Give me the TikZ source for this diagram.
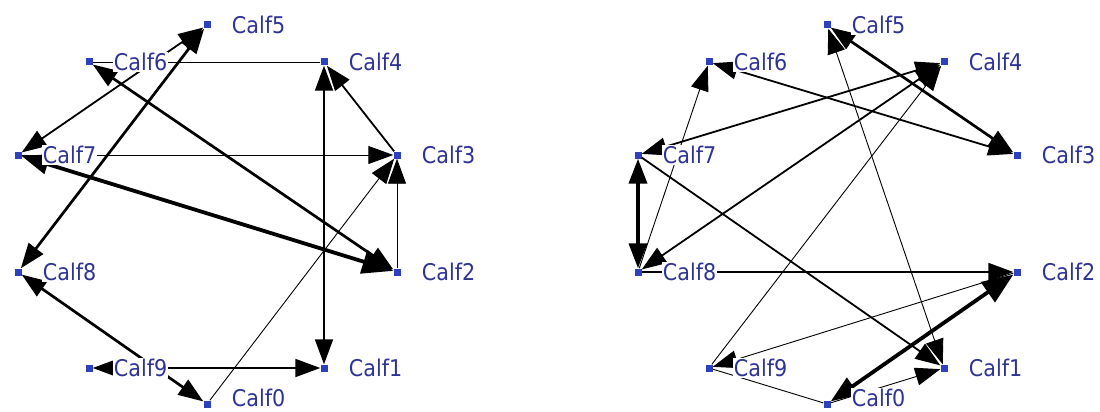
\documentclass[tikz,border=0pt]{standalone}
\usepackage{fontspec}
\setmainfont{DejaVu Sans Condensed}
\usetikzlibrary{arrows.meta,positioning}

\definecolor{calfblue}{RGB}{46,52,150}
\definecolor{dotblue}{RGB}{45,65,190}

\begin{document}
\begin{tikzpicture}[x = 1pt, y = -1pt,
        font = \fontsize{23}{27}\selectfont,
        dot/.style = {fill = dotblue, minimum size = 7pt, inner sep = 0pt},
        calf/.style = {text = calfblue, fill = white, inner sep = 1pt},
        e1/.style = {line width = 0.9pt},
        e2/.style = {line width = 1.8pt},
        e3/.style = {line width = 2.7pt},
        e4/.style = {line width = 3.8pt},
        one/.style = {-{Triangle[length = 25pt, width = 18pt]}},
        both/.style = {{Triangle[length = 25pt, width = 18pt]}-{Triangle[length = 25pt, width = 18pt]}},
        bigboth/.style = {{Triangle[length = 27pt, width = 20pt]}-{Triangle[length = 31pt, width = 24pt]}}]
        \useasboundingbox (0,0) rectangle (1100,412);
        
        % dots of both graphs
        \foreach \n/\x/\y in {5/207/25, 6/89/62, 4/324/62, 7/18/155, 3/397/155,
                              8/18/272, 2/397/272, 9/89/368, 1/324/368, 0/207/404}
        {
            \node[dot] (a\n) at (\x,\y) {};
            \node[dot] (b\n) at (\x+620,\y) {};
        }
        
        % left graph
        \draw [e1] (a6) -- (a4);
        \draw [e2, both] (a4) -- (a1);
        \draw [e2, one] (a3) -- (a4);
        \draw [e1, one] (a2) -- (a3);
        \draw [e1, one] (a0) -- (a3);
        \draw [e1, one] (a7) -- (a3);
        \draw [e4, bigboth] (a7) -- (a2);
        \draw [e3, both] (a6) -- (a2);
        \draw [e2, both] (a5) -- (a7);
        \draw [e3, both] (a8) -- (a5);
        \draw [e3, both] (a8) -- (a0);
        \draw [e2, both] (a9) -- (a1);
        
        % right graph
        \draw [e1, one] (b8) -- (b6);
        \draw [e2, both] (b6) -- (b3);
        \draw [e3, both] (b5) -- (b3);
        \draw [e1, both] (b1) -- (b5);
        \draw [e2, both] (b7) -- (b4);
        \draw [e2, both] (b8) -- (b4);
        \draw [e1, one] (b9) -- (b4);
        \draw [e4, both] (b7) -- (b8);
        \draw [e2, one] (b8) -- (b2);
        \draw [e2, one] (b7) -- (b1);
        \draw [e1, one] (b2) -- (b9);
        \draw [e1] (b9) -- (b0);
        \draw [e4, bigboth] (b0) -- (b2);
        \draw [e1, one] (b0) -- (b1);
        
        % labels
        \foreach \n in {1,...,9}
        {
            \node[calf, right = 20pt of a\n] (la\n) {Calf\n};
            \node[calf, right = 20pt of b\n] (lb\n) {Calf\n};
        }
        \node[calf, right = 20pt of a0, yshift = 6pt] (la0) {Calf0};
        \node[calf, right = 20pt of b0, yshift = 6pt] (lb0) {Calf0};
    \end{tikzpicture}
\end{document}
